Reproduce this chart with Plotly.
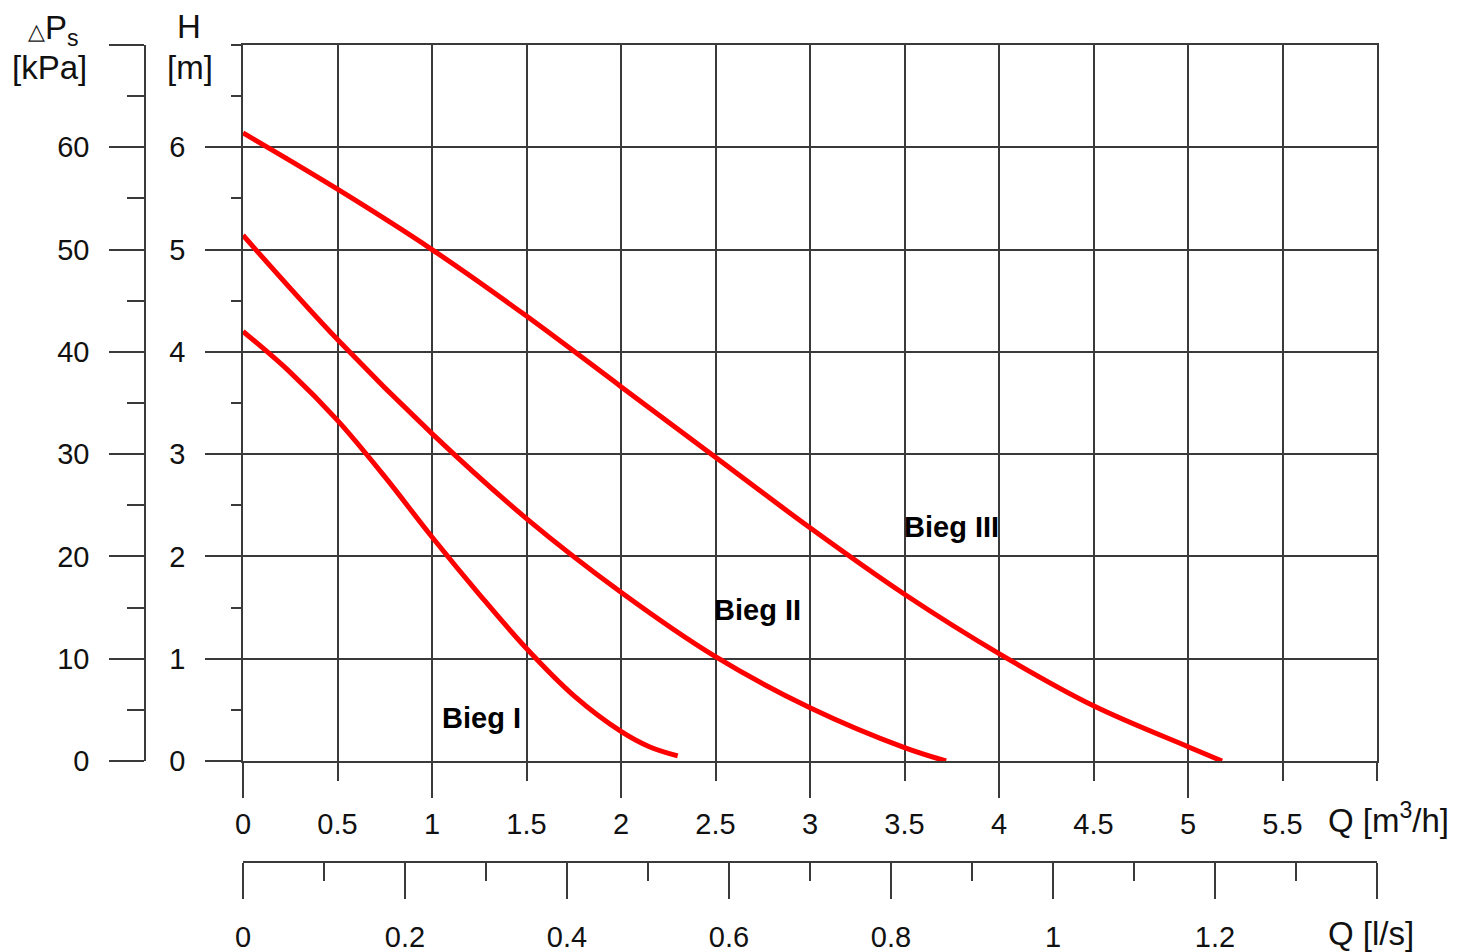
import plotly.graph_objects as go

# ---------------- data ----------------
q1 = [0, 0.25, 0.5, 0.75, 1.0, 1.25, 1.5, 1.75, 2.0, 2.15, 2.30]
h1 = [4.20, 3.80, 3.33, 2.78, 2.19, 1.63, 1.10, 0.64, 0.29, 0.14, 0.05]

q2 = [0, 0.5, 1.0, 1.5, 2.0, 2.5, 3.0, 3.5, 3.72]
h2 = [5.14, 4.12, 3.20, 2.37, 1.65, 1.02, 0.52, 0.13, 0.0]

q3 = [0, 0.5, 1.0, 1.5, 2.0, 2.5, 3.0, 3.5, 4.0, 4.5, 5.0, 5.18]
h3 = [6.14, 5.59, 5.0, 4.35, 3.66, 2.97, 2.28, 1.63, 1.05, 0.54, 0.14, 0.0]

curve_names = ["Bieg I", "Bieg II", "Bieg III"]
label_q = [1.26, 2.72, 3.75]
label_h = [0.42, 1.48, 2.29]

q_m3h_ticks = [0, 0.5, 1, 1.5, 2, 2.5, 3, 3.5, 4, 4.5, 5, 5.5, 6]
q_m3h_text = ["0", "0.5", "1", "1.5", "2", "2.5", "3", "3.5", "4", "4.5", "5", "5.5", ""]
q_m3h_major = [0, 1, 2, 3, 4, 5]

q_ls_ticks = [0, 0.2, 0.4, 0.6, 0.8, 1.0, 1.2, 1.4]
q_ls_text = ["0", "0.2", "0.4", "0.6", "0.8", "1", "1.2", ""]
q_ls_minor = [0.1, 0.3, 0.5, 0.7, 0.9, 1.1, 1.3]

h_ticks = [0, 1, 2, 3, 4, 5, 6]
h_text = ["0", "1", "2", "3", "4", "5", "6"]
h_minor = [0.5, 1.5, 2.5, 3.5, 4.5, 5.5, 6.5, 7]

kpa_ticks = [0, 10, 20, 30, 40, 50, 60, 70]
kpa_text = ["0", "10", "20", "30", "40", "50", "60", ""]
kpa_minor = [5, 15, 25, 35, 45, 55, 65]

# ---------------- layout geometry ----------------
OFF = 8                      # page body margin
W, H = 1457 - OFF, 952 - OFF
ML, MT, MB = 0, 30, 0
MR = W - (1377 - OFF)
PW = W - ML - MR
PH = H - MT - MB


def px(x):
    return (x - OFF - ML) / PW


def py(y):
    return (H - MB - (y - OFF)) / PH


LINE = "#3a3a3a"
FONT = "Liberation Sans, Arial, sans-serif"
FS = 29
TFS = 33

xdom = [px(243), 1.0]
ydom = [py(761), py(45)]

fig = go.Figure()
for q, h in [(q1, h1), (q2, h2), (q3, h3)]:
    fig.add_trace(go.Scatter(x=q, y=h, mode="lines",
                             line=dict(color="#ff0000", width=5, shape="spline", smoothing=1.0),
                             showlegend=False, hoverinfo="skip"))

# helper traces for extra axes
fig.add_trace(go.Scatter(x=[None], y=[None], xaxis="x2", yaxis="y", showlegend=False, hoverinfo="skip"))
fig.add_trace(go.Scatter(x=[None], y=[None], xaxis="x3", yaxis="y", showlegend=False, hoverinfo="skip"))
fig.add_trace(go.Scatter(x=[None], y=[None], xaxis="x", yaxis="y2", showlegend=False, hoverinfo="skip"))

for name, lq, lh in zip(curve_names, label_q, label_h):
    fig.add_annotation(x=lq, y=lh, text="<b>" + name + "</b>", showarrow=False,
                       font=dict(family=FONT, size=FS, color="black"), xanchor="center", yanchor="middle")

axis_common = dict(linecolor=LINE, linewidth=1.5, ticks="outside",
                   tickcolor=LINE, tickwidth=1.5, tickfont=dict(family=FONT, size=FS, color="#111"),
                   zeroline=False, automargin=False, fixedrange=True)
minor_common = dict(ticks="outside", tickcolor=LINE, tickwidth=1.5, showgrid=False)

fig.update_layout(
    width=W, height=H,
    margin=dict(l=ML, r=MR, t=MT, b=MB),
    paper_bgcolor="white", plot_bgcolor="white",
    xaxis=dict(domain=xdom, range=[0, 6], tickmode="array", tickvals=q_m3h_ticks, ticktext=q_m3h_text,
               ticklen=18, showgrid=True, gridcolor=LINE, gridwidth=1.5, showline=True, mirror=True,
               ticklabelstandoff=18, anchor="y", **axis_common),
    xaxis3=dict(domain=xdom, range=[0, 6], overlaying="x", anchor="y", tickmode="array",
                tickvals=q_m3h_major, ticklen=36, showticklabels=False, showgrid=False, showline=False,
                **axis_common),
    xaxis2=dict(domain=xdom, range=[0, 1.4], overlaying="x", anchor="free", position=py(862), side="bottom",
                tickmode="array", tickvals=q_ls_ticks, ticktext=q_ls_text, ticklen=36, showgrid=False,
                showline=True, ticklabelstandoff=13,
                minor=dict(tickmode="array", tickvals=q_ls_minor, ticklen=18, **minor_common),
                **axis_common),
    yaxis=dict(domain=ydom, range=[0, 7], tickmode="array", tickvals=h_ticks, ticktext=h_text,
               ticklen=36, showgrid=True, gridcolor=LINE, gridwidth=1.5, showline=True, mirror=True,
               ticklabelstandoff=14, anchor="x",
               minor=dict(tickmode="array", tickvals=h_minor, ticklen=10, **minor_common),
               **axis_common),
    yaxis2=dict(domain=[py(761), py(42.5)], range=[0, 70], overlaying="y", anchor="free", position=px(145),
                side="left", tickmode="array", tickvals=kpa_ticks, ticktext=kpa_text, ticklen=35,
                showgrid=False, showline=True, ticklabelstandoff=14,
                minor=dict(tickmode="array", tickvals=kpa_minor, ticklen=17, **minor_common),
                **axis_common),
)

tfont = dict(family=FONT, size=TFS, color="#111")
# axis titles
fig.add_annotation(xref="paper", yref="paper", x=px(53), y=py(30),
                   text="<span style='font-size:22px'>△</span>P<sub>s</sub>",
                   showarrow=False, font=tfont, xanchor="center", yanchor="middle")
fig.add_annotation(xref="paper", yref="paper", x=px(49), y=py(68), text="[kPa]",
                   showarrow=False, font=tfont, xanchor="center", yanchor="middle")
fig.add_annotation(xref="paper", yref="paper", x=px(189), y=py(27), text="H",
                   showarrow=False, font=tfont, xanchor="center", yanchor="middle")
fig.add_annotation(xref="paper", yref="paper", x=px(190), y=py(68), text="[m]",
                   showarrow=False, font=tfont, xanchor="center", yanchor="middle")
fig.add_annotation(xref="paper", yref="paper", x=px(1326), y=py(818), text="Q [m<sup>3</sup>/h]",
                   showarrow=False, font=tfont, xanchor="left", yanchor="middle")
fig.add_annotation(xref="paper", yref="paper", x=px(1326), y=py(933), text="Q [l/s]",
                   showarrow=False, font=tfont, xanchor="left", yanchor="middle")

fig.write_html("out.html")
